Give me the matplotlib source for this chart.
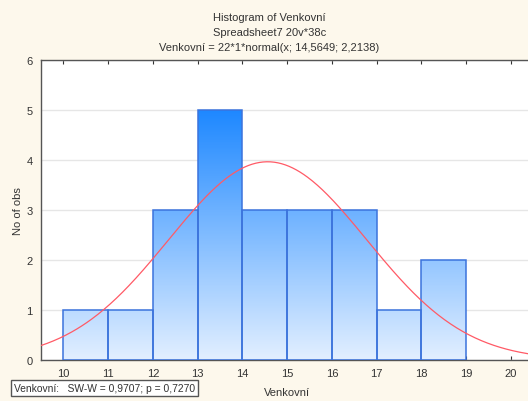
import numpy as np
import matplotlib.pyplot as plt
from matplotlib.colors import LinearSegmentedColormap
from matplotlib.path import Path
from matplotlib.patches import PathPatch

plt.rcParams['font.family'] = ['Liberation Sans', 'DejaVu Sans']

# data
bin_edges = [10, 11, 12, 13, 14, 15, 16, 17, 18, 19]
counts = [1, 1, 3, 5, 3, 3, 3, 1, 2]
n_obs = 22
mean, sd = 14.5649, 2.2138
x_ticks = list(range(10, 21))
y_ticks = list(range(0, 7))

bg = '#fdf8ec'
txt = '#333333'
fig = plt.figure(figsize=(5.28, 4.02), dpi=100, facecolor=bg)
ax = fig.add_axes([41 / 528, 1 - 361 / 402, 1 - 41 / 528 + 0.01, 300 / 402])
ax.set_facecolor('white')

ax.set_xlim(9.5, 20.5)
ax.set_ylim(0, 6)
ax.yaxis.grid(True, color='#e6e6e6', lw=1)
ax.set_axisbelow(True)

# bars: vertical gradient (same scale for all bars), clipped to the bar shapes
cmap = LinearSegmentedColormap.from_list('blu', ['#e2efff', '#1e88ff'])
grad = np.linspace(0, 1.2, 256).reshape(-1, 1)
img = ax.imshow(grad, extent=(9.5, 20.5, 0, 6), origin='lower', aspect='auto',
                cmap=cmap, vmin=0, vmax=1, zorder=2)
widths = np.diff(bin_edges)
ax.bar(bin_edges[:-1], counts, width=widths, align='edge',
       facecolor='none', edgecolor='#3b73dc', lw=1.1, zorder=3)
verts, codes = [], []
for left, h, w in zip(bin_edges[:-1], counts, widths):
    verts += [(left, 0), (left, h), (left + w, h), (left + w, 0), (left, 0)]
    codes += [Path.MOVETO, Path.LINETO, Path.LINETO, Path.LINETO, Path.CLOSEPOLY]
clip = PathPatch(Path(verts, codes), transform=ax.transData, facecolor='none', edgecolor='none')
ax.add_patch(clip)
img.set_clip_path(clip)

# fitted normal curve
xs = np.linspace(9.5, 20.5, 400)
ys = n_obs * 1 * np.exp(-0.5 * ((xs - mean) / sd) ** 2) / (sd * np.sqrt(2 * np.pi))
ax.plot(xs, ys, color='#ff5a66', lw=0.9, zorder=4)

ax.set_xticks(x_ticks)
ax.set_yticks(y_ticks)
ax.tick_params(axis='both', labelsize=8, colors=txt, length=3)
ax.tick_params(axis='x', top=True, direction='in', pad=6)
ax.tick_params(axis='y', length=0, pad=6)
for s in ax.spines.values():
    s.set_color('#555555')
    s.set_linewidth(1)

ax.set_xlabel('Venkovní', fontsize=8, color=txt, labelpad=6)
ax.set_ylabel('No of obs', fontsize=8, color=txt)
ax.yaxis.set_label_coords((23 - 41) / 492, 0.5)

fig.text(0.51, 1 - 18 / 402, 'Histogram of Venkovní', ha='center', va='center', fontsize=8, color=txt)
fig.text(0.51, 1 - 33 / 402, 'Spreadsheet7 20v*38c', ha='center', va='center', fontsize=8, color=txt)
fig.text(0.51, 1 - 48 / 402, 'Venkovní = 22*1*normal(x; 14,5649; 2,2138)', ha='center', va='center',
         fontsize=8, color=txt)
fig.text(14 / 528, 1 - 389 / 402, 'Venkovní:   SW-W = 0,9707; p = 0,7270', ha='left', va='center',
         fontsize=7.4, color=txt,
         bbox=dict(boxstyle='square,pad=0.3', facecolor='white', edgecolor='#555555', lw=1))

fig.savefig('out.png', dpi=100, facecolor=bg)
